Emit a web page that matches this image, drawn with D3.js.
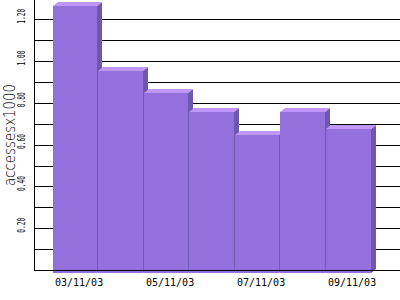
<!DOCTYPE html>
<html>
<head>
<meta charset="utf-8">
<script src="https://cdn.jsdelivr.net/npm/d3@7"></script>
<style>
  html, body { margin: 0; padding: 0; background: #fff; }
  svg { display: block; }
</style>
</head>
<body>
<svg id="chart" width="400" height="300"></svg>
<script>
// daily access counts (x1000)
const days = ['03/11/03', '04/11/03', '05/11/03', '06/11/03', '07/11/03', '08/11/03', '09/11/03'];
const accesses = [1.28, 0.965, 0.86, 0.77, 0.66, 0.77, 0.69];
const yTicks = [0.2, 0.4, 0.6, 0.8, 1.0, 1.2];
const shownDays = ['03/11/03', '05/11/03', '07/11/03', '09/11/03'];

const W = 400, H = 300;
const plot = { left: 34, top: 0, bottom: 270 };
const depth = { dx: 5, dy: 4 };   // 3d offset of the back plane
const frontDrop = 3;              // front face sits a bit below the axis

const svg = d3.select('#chart');

const x = d3.scaleBand()
  .domain(days)
  .range([52.7, 371.5])
  .padding(0);

const y = d3.scaleLinear()
  .domain([0, 1.292])
  .range([plot.bottom, plot.top]);

// grid lines every 0.1, from the axis to the right edge
const gridVals = d3.range(1, 13).map(i => i / 10);
svg.append('g')
  .selectAll('line')
  .data(gridVals)
  .join('line')
  .attr('x1', plot.left)
  .attr('x2', W)
  .attr('y1', d => Math.round(y(d)) + 0.5)
  .attr('y2', d => Math.round(y(d)) + 0.5)
  .attr('stroke', '#000')
  .attr('stroke-width', 1);

// bars, drawn left to right so each front hides most of the previous side
const bars = svg.append('g');
days.forEach((day, i) => {
  const v = accesses[i];
  const x0 = Math.round(x(day));
  const x1 = Math.round(x(day) + x.bandwidth()) - 1;
  const yf = Math.round(y(v)) + frontDrop;
  const yb = plot.bottom + frontDrop;
  const g = bars.append('g');

  // side face
  g.append('polygon')
    .attr('points', [[x1, yf], [x1 + depth.dx, yf - depth.dy], [x1 + depth.dx, yb - depth.dy], [x1, yb]].join(' '))
    .attr('fill', '#6f57ab');

  // top face
  g.append('polygon')
    .attr('points', [[x0, yf], [x0 + depth.dx, yf - depth.dy], [x1 + depth.dx, yf - depth.dy], [x1, yf]].join(' '))
    .attr('fill', '#c096fc');

  // front face
  g.append('rect')
    .attr('x', x0)
    .attr('y', yf)
    .attr('width', x1 - x0)
    .attr('height', yb - yf)
    .attr('fill', '#9370db');
});

// axes lines
svg.append('line')
  .attr('x1', plot.left + 0.5).attr('x2', plot.left + 0.5)
  .attr('y1', 0).attr('y2', plot.bottom + 1)
  .attr('stroke', '#000');
svg.append('line')
  .attr('x1', plot.left).attr('x2', W)
  .attr('y1', plot.bottom + 0.5).attr('y2', plot.bottom + 0.5)
  .attr('stroke', '#000');

// y tick labels, rotated
svg.append('g')
  .selectAll('text')
  .data(yTicks)
  .join('text')
  .attr('transform', d => `translate(25, ${y(d) - 3}) rotate(-90)`)
  .attr('text-anchor', 'middle')
  .attr('font-family', 'DejaVu Sans Mono, monospace')
  .attr('font-size', 10)
  .attr('textLength', 15)
  .attr('lengthAdjust', 'spacingAndGlyphs')
  .attr('fill', '#000')
  .text(d => d.toFixed(2));

// x labels under every second bar
svg.append('g')
  .selectAll('text')
  .data(shownDays)
  .join('text')
  .attr('x', d => Math.round(x(d)) + 2)
  .attr('y', 286)
  .attr('font-family', 'DejaVu Sans Mono, monospace')
  .attr('font-size', 10)
  .attr('fill', '#000')
  .text(d => d);

// y axis title
svg.append('text')
  .attr('transform', 'translate(15, 135) rotate(-90)')
  .attr('text-anchor', 'middle')
  .attr('font-family', 'DejaVu Sans, sans-serif')
  .attr('font-weight', 300)
  .attr('font-size', 15)
  .attr('textLength', 102)
  .attr('lengthAdjust', 'spacingAndGlyphs')
  .attr('fill', '#000')
  .text('accessesx1000');
</script>
</body>
</html>
